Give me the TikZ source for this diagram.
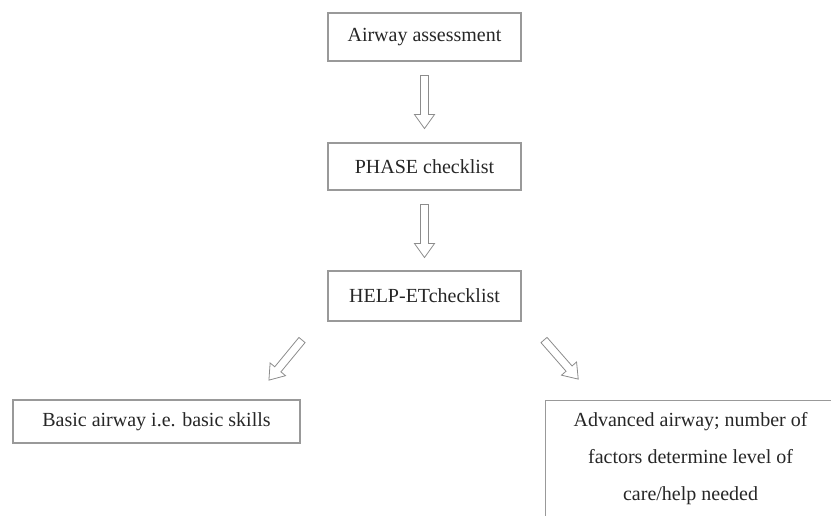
\documentclass[tikz,border=0pt]{standalone}
\usepackage{fontspec}
\setmainfont{Liberation Serif}
\begin{document}
\begin{tikzpicture}[x=1pt,y=1pt,
  box/.style={draw=black!40, line width=1.1pt, inner sep=0pt, text=black!85,
    font=\fontsize{20}{37}\selectfont},
  arrowline/.style={draw=black!45, line width=0.8pt, line join=miter}]
\useasboundingbox (0,0) rectangle (831,-515);
\clip (0,0) rectangle (831,-515);
\newcommand\blockarrow[3]{%
  \draw[arrowline, shift={(#1)}, rotate=#2]
    (0,-4) -- (#3-14,-4) -- (#3-14,-10) -- (#3,0) -- (#3-14,10) -- (#3-14,4) -- (0,4) -- cycle;}
% boxes
\node[box, minimum width=193, minimum height=48] (b1) at (424.5,-37) {Airway assessment};
\node[box, minimum width=193, minimum height=47] (b2) at (424.5,-166.5) {PHASE checklist};
\node[box, minimum width=193, minimum height=50] (b3) at (424.5,-296) {HELP-ETchecklist};
\node[box, minimum width=287, minimum height=43] (b4) at (156.5,-421.5) {Basic airway i.e. basic skills};
\node[box, minimum width=290, minimum height=116, anchor=north west, align=center] (b5) at (545,-400)
  {Advanced airway; number of\\factors determine level of\\care/help needed};
% arrow tails
\coordinate (a1) at ([yshift=-14pt]b1.south);
\coordinate (a2) at ([yshift=-14pt]b2.south);
\coordinate (a3) at (302,-340);
\coordinate (a4) at (544,-340);
\blockarrow{a1}{-90}{53}
\blockarrow{a2}{-90}{53}
\blockarrow{a3}{230.5}{52}
\blockarrow{a4}{-48.8}{52}
\end{tikzpicture}
\end{document}
